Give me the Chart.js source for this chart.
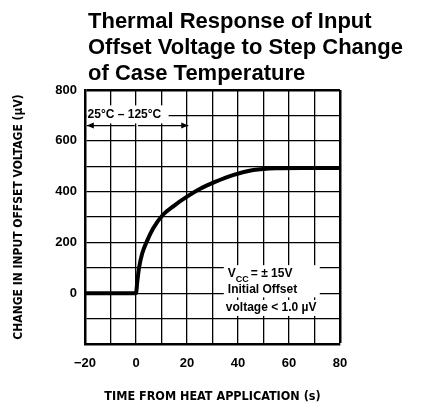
<!DOCTYPE html>
<html>
<head>
<meta charset="utf-8">
<script src="https://cdn.jsdelivr.net/npm/chart.js@4.4.1/dist/chart.umd.min.js"></script>
<style>
  html, body { margin: 0; padding: 0; background: #fff; }
  #wrap { width: 425px; height: 410px; position: relative; }
</style>
</head>
<body>
<div id="wrap"><canvas id="thermalChart"></canvas></div>
<script>
// values (time in s, change in uV)
const times = [-20, 0, 0.5, 1.2, 2.4, 4.3, 6.7, 10.5, 15, 20, 25, 31, 38, 46, 55, 65, 80];
const offsetChange = [0, 0, 45, 100, 155, 205, 255, 308, 345, 380, 410, 438, 465, 485, 492, 493, 493];

const titleLines = ['Thermal Response of Input', 'Offset Voltage to Step Change', 'of Case Temperature'];
const xLabelSteps = [-20, 0, 20, 40, 60, 80];
const yLabelSteps = [0, 200, 400, 600, 800];
const noteLines = ['Initial Offset', 'voltage < 1.0 \u00b5V'];

const tickFont = { family: 'Liberation Sans', size: 13, weight: 'bold' };

const heading = {
    id: 'heading',
    afterDraw(chart) {
        const ctx = chart.ctx;
        ctx.save();
        ctx.fillStyle = '#000';
        ctx.font = 'bold 22px "Liberation Sans"';
        ctx.textBaseline = 'alphabetic';
        ctx.textAlign = 'left';
        titleLines.forEach((line, i) => ctx.fillText(line, 88, 28 + i * 26));
        ctx.restore();
    }
};

function whiteBox(ctx, x, y, w, h){
    ctx.fillStyle = '#fff';
    ctx.fillRect(x, y, w, h);
}

function arrow(ctx, x1, x2, y){
    const dir = x2 > x1 ? 1 : -1;
    ctx.beginPath();
    ctx.moveTo(x1, y);
    ctx.lineTo(x2, y);
    ctx.stroke();
    ctx.beginPath();
    ctx.moveTo(x2, y);
    ctx.lineTo(x2 - dir * 7, y - 3);
    ctx.lineTo(x2 - dir * 7, y + 3);
    ctx.closePath();
    ctx.fill();
}

const notes = {
    id: 'notes',
    afterDatasetsDraw(chart) {
        const ctx = chart.ctx;
        const xs = chart.scales.x, ys = chart.scales.y;
        ctx.save();
        ctx.textBaseline = 'middle';
        ctx.textAlign = 'left';

        // step label with arrows
        ctx.font = 'bold 12px "Liberation Sans"';
        const stepText = '25\u00b0C \u2013 125\u00b0C';
        const sx = xs.getPixelForValue(-19), sy = ys.getPixelForValue(700) - 1;
        const sw = ctx.measureText(stepText).width;
        whiteBox(ctx, xs.left + 2, sy - 9, sw + 8, 18);
        ctx.fillStyle = '#000';
        ctx.fillText(stepText, sx, sy);
        ctx.strokeStyle = '#000';
        ctx.lineWidth = 1.3;
        const ay = ys.getPixelForValue(660);
        arrow(ctx, xs.getPixelForValue(-0.5), xs.getPixelForValue(-19.3), ay);
        arrow(ctx, xs.getPixelForValue(0.8), xs.getPixelForValue(20.5), ay);

        // supply / offset note
        const nx = xs.getPixelForValue(36);
        const y1 = ys.getPixelForValue(75), y2 = ys.getPixelForValue(15), y3 = ys.getPixelForValue(-58);
        ctx.font = 'bold 12px "Liberation Sans"';
        const w1 = 88, w2 = ctx.measureText(noteLines[0]).width, w3 = ctx.measureText(noteLines[1]).width;
        whiteBox(ctx, nx - 4, y1 - 9, Math.max(w1, w2) + 8, y2 - y1 + 17);
        whiteBox(ctx, nx - 5, y3 - 8, w3 + 8, 16);
        ctx.fillStyle = '#000';
        ctx.fillText('V', nx, y1);
        ctx.font = 'bold 9px "Liberation Sans"';
        ctx.fillText('CC', nx + 8, y1 + 5);
        ctx.font = 'bold 12px "Liberation Sans"';
        ctx.fillText('= \u00b1 15V', nx + 23, y1);
        ctx.fillText(noteLines[0], nx, y2);
        ctx.fillText(noteLines[1], nx - 2, y3);
        ctx.restore();
    }
};

const edgeWidth = (edge) => (c) => (c.tick && c.tick.value === edge ? 2.5 : 1.3);

new Chart(document.getElementById('thermalChart'), {
    type: 'line',
    data: {
        datasets: [{
            data: times.map((t, i) => ({ x: t, y: offsetChange[i] })),
            borderColor: '#000',
            borderWidth: 4,
            pointRadius: 0,
            cubicInterpolationMode: 'monotone',
            fill: false
        }]
    },
    options: {
        responsive: true,
        maintainAspectRatio: false,
        animation: false,
        layout: { padding: { top: 90, right: 85, left: 0, bottom: 0 } },
        plugins: { legend: { display: false }, tooltip: { enabled: false }, title: { display: false } },
        scales: {
            x: {
                type: 'linear',
                min: -20, max: 80,
                afterFit: (s) => { s.height = 66; },
                grid: { color: '#000', lineWidth: edgeWidth(80), drawTicks: false },
                border: { color: '#000', width: 2.5 },
                ticks: {
                    stepSize: 10,
                    padding: 12,
                    color: '#000',
                    font: tickFont,
                    maxRotation: 0,
                    minRotation: 0,
                    autoSkip: false,
                    callback: (v) => xLabelSteps.includes(v) ? (v < 0 ? '\u2212' + Math.abs(v) : String(v)) : ''
                },
                title: {
                    display: true,
                    text: 'TIME FROM HEAT APPLICATION (s)',
                    color: '#000',
                    font: { family: 'DejaVu Sans Condensed', size: 12.5, weight: 'bold' },
                    padding: { top: 0, bottom: 6 }
                }
            },
            y: {
                min: -200, max: 800,
                afterFit: (s) => { s.width = 85; },
                grid: { color: '#000', lineWidth: edgeWidth(800), drawTicks: false },
                border: { color: '#000', width: 2.5 },
                ticks: {
                    stepSize: 100,
                    padding: 8,
                    color: '#000',
                    font: tickFont,
                    autoSkip: false,
                    callback: (v) => yLabelSteps.includes(v) ? String(v) : ''
                },
                title: {
                    display: true,
                    text: 'CHANGE IN INPUT OFFSET VOLTAGE (\u00b5V)',
                    color: '#000',
                    font: { family: 'DejaVu Sans Condensed', size: 12, weight: 'bold' },
                    padding: { top: 12, bottom: 0 }
                }
            }
        }
    },
    plugins: [heading, notes]
});
</script>
</body>
</html>
